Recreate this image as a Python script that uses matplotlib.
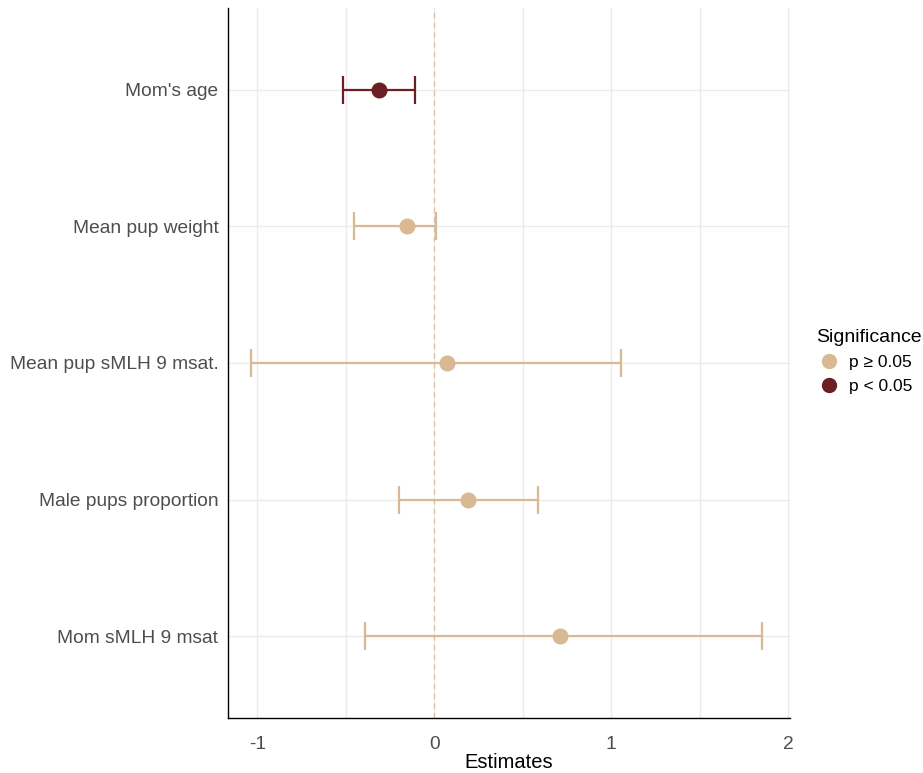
import numpy as np
import matplotlib.pyplot as plt
from matplotlib.lines import Line2D
from matplotlib.ticker import MultipleLocator

plt.rcParams['font.family'] = ['Liberation Sans', 'DejaVu Sans']
plt.rcParams['axes.unicode_minus'] = False

# top to bottom
terms = ["Mom's age", "Mean pup weight", "Mean pup sMLH 9 msat.",
         "Male pups proportion", "Mom sMLH 9 msat"]
estimates = [-0.31, -0.153, 0.073, 0.192, 0.712]
ci_low = [-0.514, -0.452, -1.034, -0.198, -0.39]
ci_high = [-0.107, 0.011, 1.056, 0.588, 1.853]
significant = [True, False, False, False, False]

col_ns = "#D9B994"
col_sig = "#6B1E23"

fig = plt.figure(figsize=(9.23, 7.73), dpi=100)
ax = fig.add_axes([0.247, 0.071, 0.609, 0.919])

n = len(terms)
ypos = np.arange(n, 0, -1)

ax.axvline(0, color=col_ns, lw=1, ls=(0, (4, 3)), alpha=0.8, zorder=1)

for i in range(n):
    c = col_sig if significant[i] else col_ns
    est = estimates[i]
    ax.errorbar(est, ypos[i],
                xerr=[[est - ci_low[i]], [ci_high[i] - est]],
                fmt='o', color=c, ms=10.5, elinewidth=1.6,
                capsize=10, capthick=1.6, zorder=3)

ax.set_xlim(-1.165, 2.01)
ax.set_ylim(0.4, n + 0.6)
ax.xaxis.set_major_locator(MultipleLocator(1))
ax.xaxis.set_minor_locator(MultipleLocator(0.5))
ax.set_yticks(ypos)
ax.set_yticklabels(terms)
ax.grid(True, which='both', axis='x', color='#EBEBEB', lw=1, zorder=0)
ax.grid(True, which='major', axis='y', color='#EBEBEB', lw=1, zorder=0)
ax.set_axisbelow(True)

for s in ['top', 'right']:
    ax.spines[s].set_visible(False)
for s in ['left', 'bottom']:
    ax.spines[s].set_color('black')
    ax.spines[s].set_linewidth(1)

ax.tick_params(axis='both', which='both', length=0, labelsize=13.75,
               labelcolor='#4D4D4D')
ax.tick_params(axis='x', pad=13)
ax.tick_params(axis='y', pad=7)
ax.set_xlabel("Estimates", fontsize=14.5, color='black', labelpad=0)

handles = [
    Line2D([], [], marker='o', ls='none', color=col_ns, ms=10, label="p \u2265 0.05"),
    Line2D([], [], marker='o', ls='none', color=col_sig, ms=10, label="p < 0.05"),
]
fig.legend(handles=handles, title="Significance", loc='center left',
           bbox_to_anchor=(0.877, 0.532), frameon=False, fontsize=12.5,
           title_fontsize=14, handletextpad=0.4, labelspacing=0.5,
           alignment='left', borderaxespad=0, handlelength=1.5)

fig.savefig("out.png", dpi=100)
